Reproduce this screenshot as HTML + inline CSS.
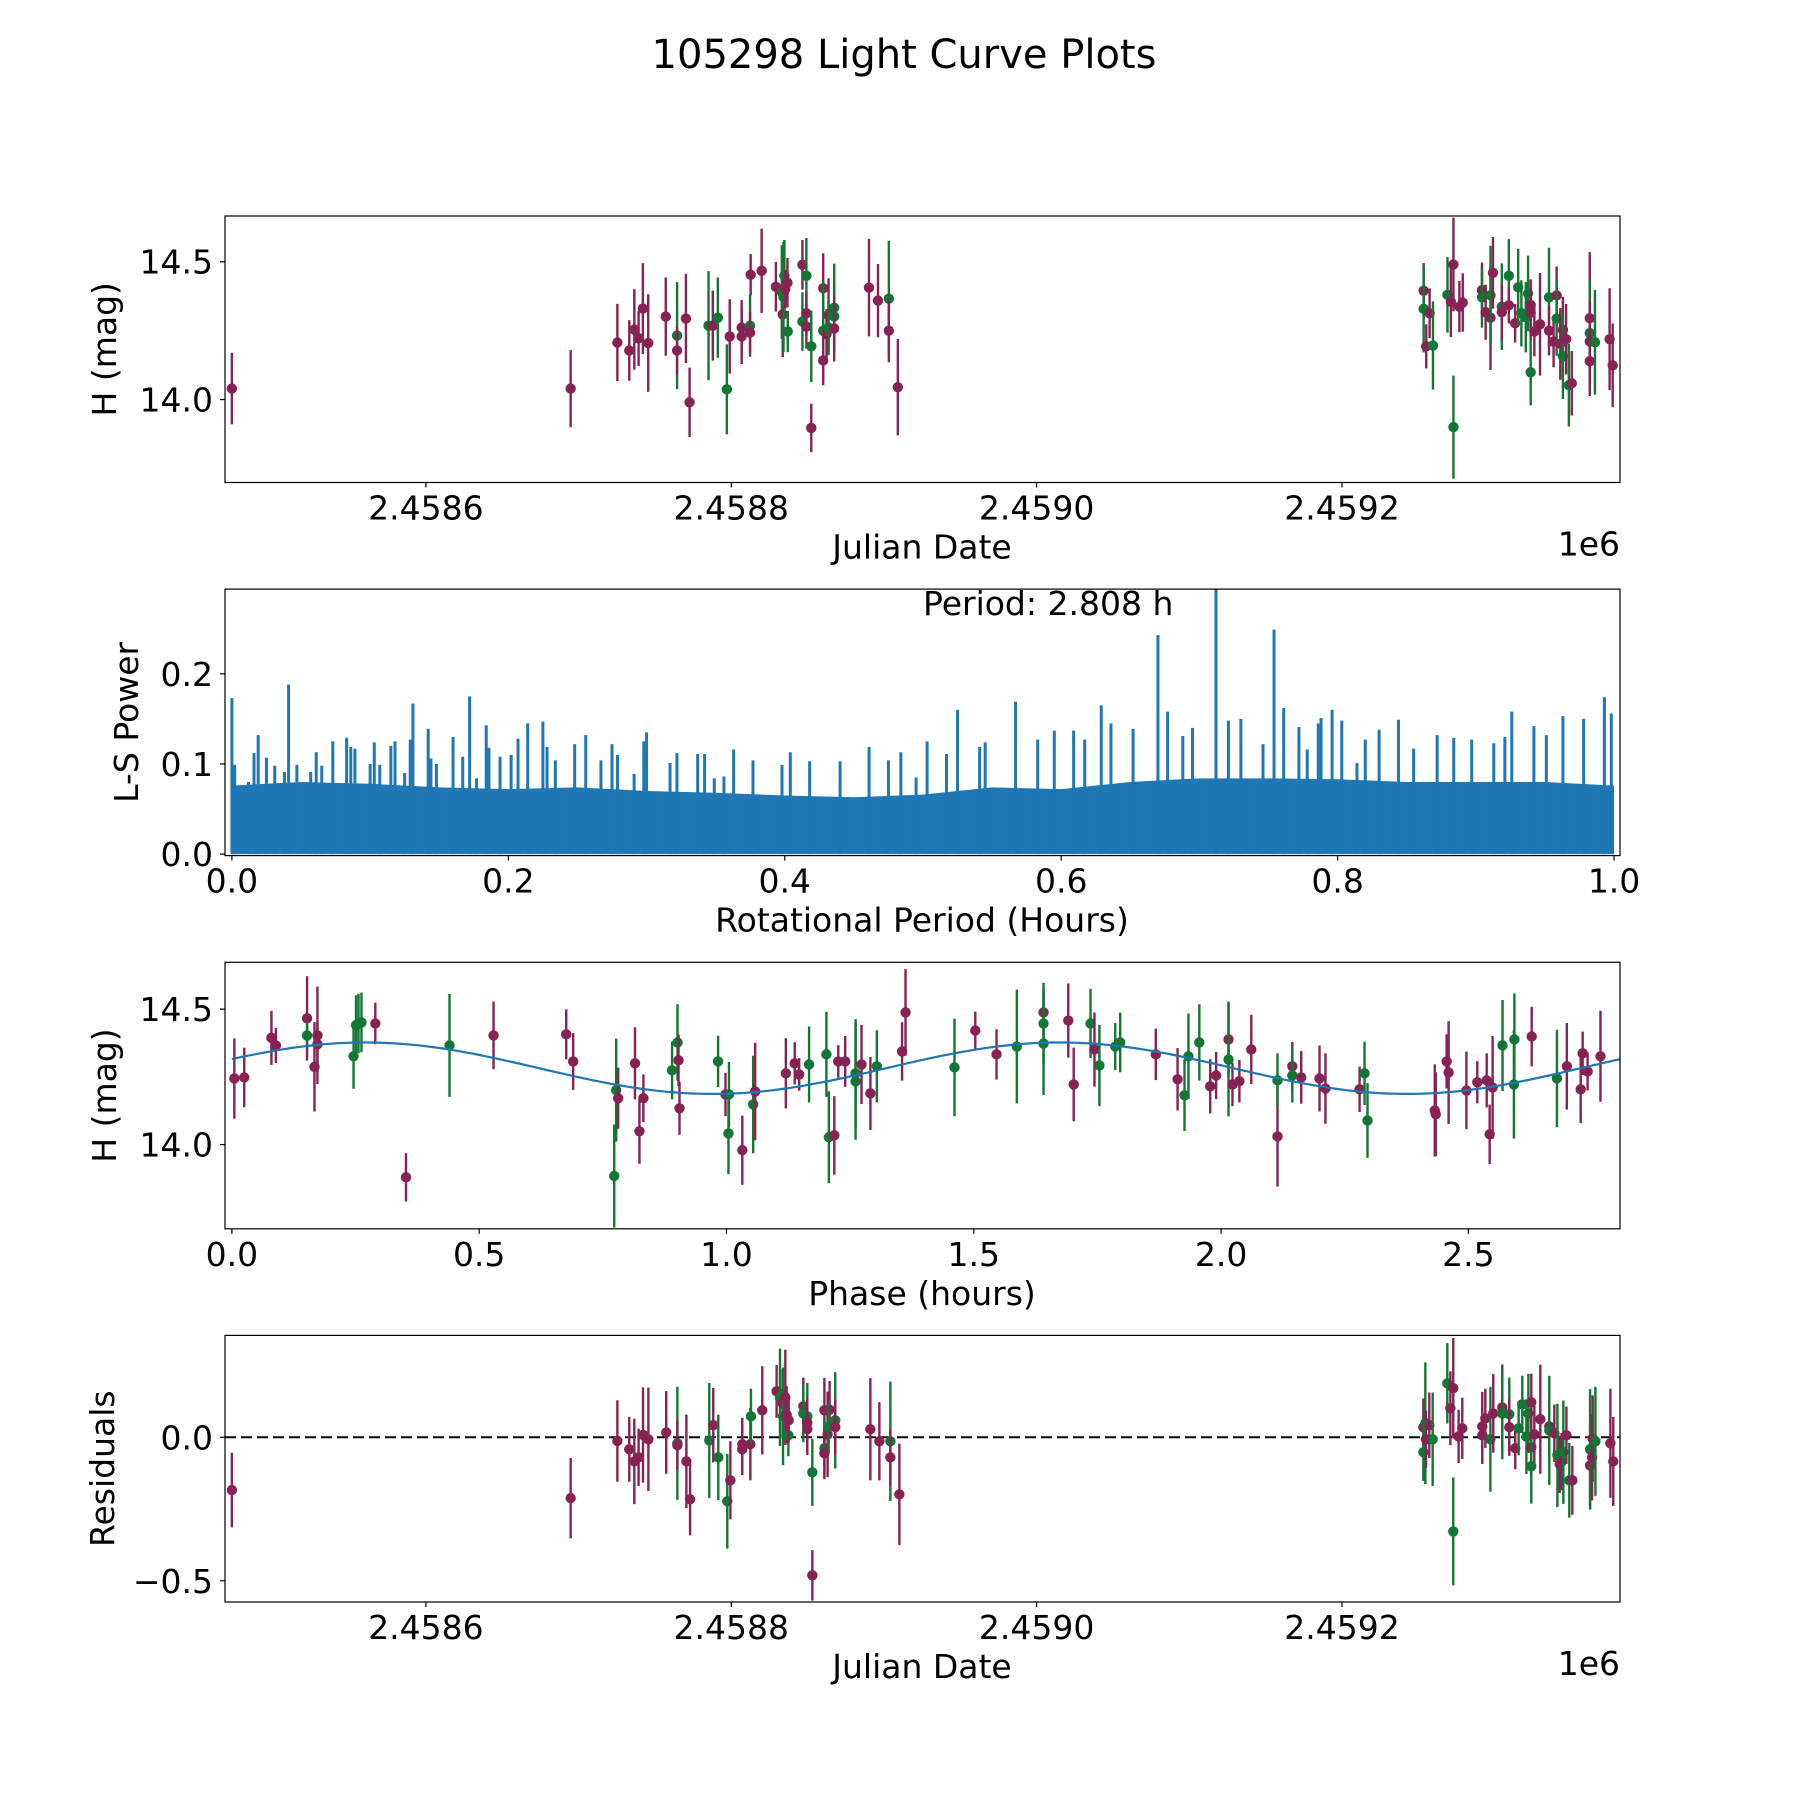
<!DOCTYPE html>
<html><head><meta charset="utf-8"><style>
html,body{margin:0;padding:0;background:#fff;}
svg text{font-family:"DejaVu Sans","Liberation Sans",sans-serif;fill:#000;}
</style></head><body>
<svg id="fig" xmlns="http://www.w3.org/2000/svg" width="1800" height="1800" viewBox="0 0 1800 1800">
<rect x="0" y="0" width="1800" height="1800" fill="#fff"/>
<text x="904" y="68" font-size="40" text-anchor="middle">105298 Light Curve Plots</text>
</svg>
<script>
// ---------- Panel 1: light curve (JD - 2458000) ----------
const jd1 = [472.9,694.8,725.4,733.2,736.5,739.3,742.1,745.6,757.1,764.5,764.5,770.3,772.7,785.1,787.9,791.2,797.1,799.0,806.8,806.8,812.3,812.3,812.7,819.9,829.2,833.1,833.7,834.2,834.8,835.3,836.8,837.0,846.6,846.6,849.2,849.2,849.2,852.4,852.4,860.2,860.2,860.2,862.4,863.7,863.7,867.4,867.4,867.4,890.2,896.1,903.2,903.2,909.1,
1253.5,1253.5,1257.4,1255.2,1259.6,1269.1,1273.0,1273.0,1271.3,1276.9,1279.1,1291.7,1291.7,1294.1,1297.3,1297.3,1298.9,1304.7,1304.7,1309.3,1309.3,1313.4,1315.4,1317.5,1320.4,1321.9,1323.6,1323.6,1323.6,1326.0,1329.7,1335.6,1335.6,1340.6,1338.6,1340.6,1343.0,1344.7,1344.7,1346.8,1348.6,1350.5,1362.3,1362.3,1362.3,1362.3,1365.7,1375.3,1377.3];
const mag1 = [14.04,14.04,14.207,14.178,14.254,14.222,14.33,14.205,14.301,14.232,14.178,14.294,13.99,14.268,14.268,14.297,14.037,14.229,14.261,14.229,14.268,14.243,14.453,14.467,14.409,14.39,14.309,14.372,14.449,14.40,14.424,14.247,14.489,14.283,14.449,14.313,14.265,14.193,13.897,14.404,14.25,14.142,14.238,14.306,14.261,14.333,14.301,14.258,14.406,14.359,14.366,14.25,14.045,
14.395,14.329,14.313,14.193,14.196,14.38,14.49,13.90,14.355,14.337,14.352,14.397,14.371,14.317,14.297,14.378,14.46,14.337,14.317,14.449,14.342,14.277,14.407,14.313,14.299,14.385,14.343,14.315,14.099,14.247,14.273,14.371,14.25,14.378,14.21,14.294,14.202,14.253,14.157,14.219,14.052,14.059,14.295,14.241,14.211,14.139,14.208,14.219,14.124];
const err1 = [0.13,0.14,0.14,0.11,0.146,0.10,0.165,0.177,0.142,0.194,0.086,0.162,0.126,0.198,0.127,0.146,0.163,0.135,0.10,0.10,0.113,0.075,0.075,0.153,0.09,0.17,0.155,0.2,0.13,0.07,0.09,0.075,0.09,0.106,0.137,0.08,0.08,0.13,0.088,0.127,0.18,0.09,0.09,0.134,0.10,0.16,0.12,0.12,0.177,0.133,0.21,0.115,0.175,
0.1,0.158,0.09,0.08,0.16,0.137,0.17,0.187,0.128,0.093,0.106,0.1,0.11,0.1,0.19,0.18,0.13,0.157,0.1,0.133,0.066,0.07,0.14,0.12,0.128,0.137,0.093,0.1,0.12,0.09,0.186,0.18,0.09,0.105,0.093,0.135,0.13,0.12,0.155,0.128,0.15,0.117,0.24,0.195,0.15,0.126,0.19,0.185,0.152];
const band1 = "mm" + "mmmmmmmgmmmgmggmmmgmmmmgmggmmgmggmmgmmgmmmgggmmmgmm" + "mgmmggmgmmmmgmmgmgmgmmggggmmgmmgmmmgmmgmgmmgmmgmm";

// ---------- Panel 2: Lomb-Scargle periodogram ----------
const lsBaseX = [0,0.05,0.1,0.15,0.2,0.25,0.3,0.35,0.4,0.45,0.5,0.55,0.6,0.65,0.7,0.75,0.8,0.85,0.9,0.95,1.0];
const lsBaseY = [0.076,0.080,0.078,0.074,0.072,0.074,0.070,0.068,0.065,0.063,0.066,0.074,0.072,0.080,0.084,0.084,0.083,0.080,0.080,0.080,0.076];
const lsPeakX = [0.000,0.002,0.012,0.016,0.019,0.025,0.031,0.038,0.041,0.047,0.057,0.061,0.065,0.073,0.083,0.086,0.089,0.100,0.103,0.107,0.115,0.118,0.125,0.129,0.131,0.142,0.144,0.148,0.160,0.167,0.172,0.177,0.184,0.186,0.194,0.202,0.207,0.214,0.225,0.228,0.234,0.248,0.256,0.267,0.275,0.279,0.291,0.298,0.300,0.317,0.322,0.337,0.342,0.349,0.356,0.363,0.377,0.398,0.404,0.418,0.440,0.461,0.475,0.484,0.495,
0.503,0.517,0.525,0.541,0.545,0.567,0.583,0.595,0.609,0.617,0.629,0.636,0.652,0.670,0.677,0.688,0.695,0.712,0.721,0.730,0.746,0.754,0.761,0.772,0.778,0.786,0.788,0.796,0.803,0.814,0.820,0.830,0.844,0.855,0.872,0.884,0.897,0.913,0.921,0.926,0.942,0.951,0.963,0.978,0.993,0.998];
const lsPeakY = [0.173,0.099,0.080,0.112,0.132,0.107,0.098,0.091,0.188,0.099,0.091,0.113,0.098,0.125,0.129,0.119,0.117,0.100,0.124,0.099,0.120,0.125,0.090,0.127,0.167,0.139,0.106,0.100,0.130,0.108,0.175,0.084,0.143,0.118,0.108,0.110,0.128,0.145,0.147,0.119,0.104,0.122,0.132,0.104,0.122,0.110,0.089,0.125,0.135,0.101,0.112,0.111,0.111,0.084,0.086,0.116,0.104,0.099,0.113,0.103,0.103,0.119,0.104,0.113,0.085,
0.125,0.111,0.160,0.119,0.124,0.169,0.127,0.137,0.137,0.127,0.165,0.145,0.139,0.243,0.158,0.131,0.140,0.294,0.148,0.150,0.122,0.249,0.162,0.141,0.116,0.145,0.151,0.160,0.148,0.101,0.127,0.138,0.149,0.117,0.132,0.129,0.127,0.123,0.130,0.158,0.142,0.132,0.153,0.150,0.174,0.156];
const bestPeriod = "2.808";

// ---------- Panel 3: phased light curve ----------
const ph3 = [0.005,0.025,0.080,0.089,0.152,0.152,0.167,0.173,0.173,0.246,0.251,0.256,0.262,0.290,0.352,0.440,0.529,0.676,0.690,0.773,0.777,0.781,0.815,0.824,0.832,0.890,0.901,0.903,0.905,
0.983,0.998,1.005,1.004,1.032,1.054,1.058,1.120,1.138,1.147,1.167,1.202,1.207,1.218,1.226,1.240,1.261,1.261,1.273,1.291,1.304,1.355,1.362,1.461,1.503,1.546,1.587,1.641,1.641,1.641,1.691,1.702,1.736,1.744,1.754,1.786,1.796,1.868,
1.912,1.926,1.934,1.956,1.978,1.990,2.015,2.015,2.023,2.037,2.061,2.114,2.114,2.144,2.144,2.162,2.199,2.211,2.280,2.290,2.296,2.432,2.434,2.456,2.460,2.496,2.518,2.537,2.543,2.549,2.569,2.592,2.593,2.628,2.679,2.699,2.727,2.731,2.741,2.767];
const mag3 = [14.244,14.248,14.394,14.366,14.466,14.403,14.287,14.403,14.37,14.326,14.441,14.447,14.451,14.447,13.879,14.366,14.403,14.407,14.307,13.884,14.201,14.171,14.30,14.049,14.171,14.274,14.377,14.311,14.134,
14.307,14.185,14.185,14.041,13.979,14.148,14.196,14.263,14.30,14.259,14.296,14.333,14.027,14.034,14.307,14.307,14.263,14.233,14.296,14.189,14.289,14.344,14.488,14.285,14.421,14.333,14.362,14.488,14.447,14.373,14.458,14.222,14.447,14.351,14.292,14.362,14.377,14.333,
14.241,14.182,14.326,14.377,14.215,14.255,14.388,14.314,14.222,14.234,14.351,14.03,14.237,14.289,14.255,14.248,14.244,14.207,14.204,14.263,14.089,14.126,14.112,14.307,14.266,14.20,14.23,14.237,14.038,14.211,14.366,14.222,14.388,14.399,14.244,14.289,14.204,14.337,14.27,14.326];
const err3 = [0.148,0.11,0.10,0.065,0.156,0.05,0.165,0.18,0.08,0.12,0.11,0.11,0.11,0.077,0.089,0.19,0.125,0.092,0.105,0.19,0.19,0.113,0.133,0.12,0.088,0.107,0.141,0.095,0.098,
0.095,0.08,0.12,0.15,0.128,0.18,0.18,0.13,0.078,0.06,0.14,0.157,0.17,0.145,0.06,0.094,0.2,0.215,0.146,0.135,0.133,0.108,0.16,0.18,0.07,0.093,0.21,0.09,0.15,0.19,0.137,0.136,0.128,0.137,0.15,0.087,0.11,0.095,
0.115,0.132,0.158,0.141,0.10,0.087,0.14,0.21,0.08,0.078,0.128,0.185,0.10,0.09,0.10,0.097,0.122,0.13,0.084,0.117,0.138,0.17,0.155,0.10,0.19,0.143,0.078,0.10,0.11,0.19,0.168,0.20,0.17,0.11,0.18,0.16,0.125,0.08,0.07,0.168];
const band3 = "mmmmmgmmmggggmmgmmmggmmmmggmm" + "gmggmgmmmmgggmmmggmmgmmgmmgmggmmgmgggm" + "mgggmmmgmmmmgmgmmmmggmmmmmmmmmgggmgmmmmm";
// sinusoidal fit: [mean, amplitude, phase of max (h), period (h)]
const fitParams = [14.282, 0.095, 0.27, 2.808];

// ---------- Panel 4: residuals ----------
const jd4 = [472.9,694.8,725.4,733.2,736.5,739.3,742.2,745.7,757.4,764.7,764.7,770.6,773.0,785.6,788.2,791.5,797.4,799.4,807.2,807.2,812.5,812.9,820.3,829.7,831.9,833.7,833.9,835.4,836.3,837.4,837.6,847.2,847.2,849.8,849.8,849.8,853.1,853.1,861.0,861.0,861.0,863.1,864.4,863.8,868.1,868.1,891.1,897.0,904.2,904.2,910.1,
1253.3,1253.3,1254.6,1255.0,1257.2,1259.4,1269.0,1271.0,1272.9,1272.9,1276.4,1278.8,1291.9,1291.9,1293.9,1297.2,1299.1,1305.0,1305.0,1309.6,1309.6,1313.5,1315.7,1318.1,1320.8,1322.1,1324.0,1324.0,1324.0,1326.0,1329.9,1335.8,1335.8,1339.1,1341.1,1342.6,1343.9,1345.0,1347.0,1348.9,1350.9,1362.5,1362.5,1363.8,1364.2,1366.0,1375.8,1377.7];
const res4 = [-0.184,-0.212,-0.013,-0.042,-0.084,-0.07,0.008,-0.007,0.017,-0.021,-0.028,-0.084,-0.216,-0.011,0.042,-0.07,-0.223,-0.15,-0.024,-0.042,-0.024,0.073,0.094,0.16,0.139,0.118,0.073,0.139,0.078,0.007,0.059,0.108,0.083,0.073,0.05,0.028,-0.122,-0.481,0.094,-0.038,-0.056,0.01,0.096,0.037,0.059,0.035,0.028,-0.014,-0.014,-0.07,-0.199,
0.035,-0.052,0.049,-0.007,0.042,-0.007,0.188,0.101,0.171,-0.328,0.003,0.031,0.038,0.007,0.066,-0.007,0.083,0.104,0.083,0.08,0.035,-0.038,0.031,0.115,0.002,0.083,0.122,-0.035,-0.101,0.01,0.063,0.038,0.024,0.014,-0.063,-0.094,-0.085,-0.052,0.007,-0.15,-0.15,-0.098,-0.042,-0.07,-0.004,-0.014,-0.021,-0.084];
const err4 = [0.13,0.14,0.142,0.113,0.149,0.1,0.166,0.18,0.144,0.197,0.087,0.163,0.126,0.2,0.13,0.149,0.165,0.136,0.092,0.09,0.126,0.096,0.154,0.092,0.17,0.12,0.17,0.166,0.1,0.073,0.078,0.1,0.1,0.116,0.09,0.09,0.117,0.088,0.113,0.1,0.09,0.149,0.1,0.09,0.168,0.096,0.178,0.136,0.208,0.1,0.177,
0.1,0.1,0.212,0.1,0.114,0.163,0.14,0.129,0.175,0.188,0.093,0.107,0.12,0.1,0.103,0.183,0.137,0.15,0.16,0.128,0.1,0.073,0.094,0.1,0.13,0.138,0.1,0.1,0.13,0.1,0.19,0.1,0.19,0.1,0.18,0.1,0.1,0.18,0.1,0.13,0.12,0.15,0.21,0.15,0.15,0.19,0.19,0.155];
const band4 = "mm" + "mmmmmmmgmmmgmggm" + "mmmgmmgmgmmgmmggmmgmmgmmmggmmmgmm" + "mggmmggmmgmmmmmgmmggmmggggmmgmmmgmgmmgmgmmgmmgmm";
</script>
<script>
const NS = "http://www.w3.org/2000/svg";
const svg = document.getElementById('fig');
const MAG = "#882255", GRN = "#117733", BLUE = "#1f77b4";
const X0 = 225, X1 = 1620;
const FS = 33;
function el(tag, attrs, parent) {
  const e = document.createElementNS(NS, tag);
  for (const k in attrs) e.setAttribute(k, attrs[k]);
  (parent || svg).appendChild(e);
  return e;
}
function makeAxis(top, bottom, xmin, xmax, ymin, ymax) {
  return {
    top, bottom,
    sx: v => X0 + (v - xmin) / (xmax - xmin) * (X1 - X0),
    sy: v => bottom - (v - ymin) / (ymax - ymin) * (bottom - top)
  };
}
function drawFrame(ax, name) {
  const f = el('rect', {x: X0, y: ax.top, width: X1 - X0, height: ax.bottom - ax.top, fill: 'none', stroke: '#000', 'stroke-width': 1.2});
  
  
}
function xTicks(ax, vals, labels, name) {
  vals.forEach((v, i) => {
    const x = ax.sx(v);
    const t = el('line', {x1: x, x2: x, y1: ax.bottom, y2: ax.bottom + 5, stroke: '#000', 'stroke-width': 1.2});
    
    
    const l = el('text', {x: x, y: ax.bottom + 37, 'font-size': FS, 'text-anchor': 'middle'});
    l.textContent = labels[i];
    
    
  });
}
function yTicks(ax, vals, labels, name) {
  vals.forEach((v, i) => {
    const y = ax.sy(v);
    const t = el('line', {x1: X0 - 5, x2: X0, y1: y, y2: y, stroke: '#000', 'stroke-width': 1.2});
    
    
    const l = el('text', {x: X0 - 12, y: y + 12, 'font-size': FS, 'text-anchor': 'end'});
    l.textContent = labels[i];
    
    
  });
}
function labels(ax, xl, yl, ylx, name, offset) {
  const a = el('text', {x: 922, y: ax.bottom + 76, 'font-size': FS, 'text-anchor': 'middle'});
  a.textContent = xl;
  
  
  const cy = (ax.top + ax.bottom) / 2;
  const b = el('text', {x: ylx, y: cy, 'font-size': FS, 'text-anchor': 'middle', transform: `rotate(-90 ${ylx} ${cy})`});
  b.textContent = yl;
  
  
  if (offset) {
    const o = el('text', {x: X1, y: ax.bottom + 73, 'font-size': FS, 'text-anchor': 'end'});
    o.textContent = offset;
    
    
  }
}
function clip(ax, id) {
  const cp = el('clipPath', {id: id});
  el('rect', {x: X0, y: ax.top, width: X1 - X0, height: ax.bottom - ax.top}, cp);
  return el('g', {'clip-path': `url(#${id})`});
}
function errPoints(ax, g, xs, ys, es, bands, name) {
  xs.forEach((xv, i) => {
    const c = bands[i] === 'g' ? GRN : MAG;
    const x = ax.sx(xv);
    const grp = el('g', {}, g);
    
    
    el('line', {x1: x, x2: x, y1: ax.sy(ys[i] - es[i]), y2: ax.sy(ys[i] + es[i]), stroke: c, 'stroke-width': 2.4}, grp);
    el('circle', {cx: x, cy: ax.sy(ys[i]), r: 5.2, fill: c}, grp);
  });
}

// Panel 1
const ax1 = makeAxis(216, 482.5, 468.4, 1382.1, 13.699, 14.666);
const g1 = clip(ax1, 'c1');


errPoints(ax1, g1, jd1, mag1, err1, band1, 'light-curve');
drawFrame(ax1, 'light-curve');
xTicks(ax1, [600, 800, 1000, 1200], ['2.4586', '2.4588', '2.4590', '2.4592'], 'light-curve');
yTicks(ax1, [14.0, 14.5], ['14.0', '14.5'], 'light-curve');
labels(ax1, 'Julian Date', 'H (mag)', 116, 'light-curve', '1e6');

// Panel 2
const ax2 = makeAxis(589.1, 855.6, -0.005, 1.0043, -0.0017, 0.294);
const g2 = clip(ax2, 'c2');


let pts = `${ax2.sx(lsBaseX[0])},${ax2.sy(0)} `;
lsBaseX.forEach((v, i) => { pts += `${ax2.sx(v)},${ax2.sy(lsBaseY[i])} `; });
pts += `${ax2.sx(lsBaseX[lsBaseX.length - 1])},${ax2.sy(0)}`;
const band = el('polygon', {points: pts, fill: BLUE}, g2);


lsPeakX.forEach((v, i) => {
  const ln = el('line', {x1: ax2.sx(v), x2: ax2.sx(v), y1: ax2.sy(0), y2: ax2.sy(lsPeakY[i]), stroke: BLUE, 'stroke-width': 3}, g2);
  
  
});
drawFrame(ax2, 'periodogram');
xTicks(ax2, [0, 0.2, 0.4, 0.6, 0.8, 1.0], ['0.0', '0.2', '0.4', '0.6', '0.8', '1.0'], 'periodogram');
yTicks(ax2, [0, 0.1, 0.2], ['0.0', '0.1', '0.2'], 'periodogram');
labels(ax2, 'Rotational Period (Hours)', 'L-S Power', 138, 'periodogram');
const pt = el('text', {x: ax2.sx(0.5), y: 615, 'font-size': FS});
pt.textContent = 'Period: ' + bestPeriod + ' h';



// Panel 3
const ax3 = makeAxis(962.3, 1228.8, -0.0139, 2.8065, 13.689, 14.673);
const g3 = clip(ax3, 'c3');


errPoints(ax3, g3, ph3, mag3, err3, band3, 'phased');
let d = '';
for (let i = 0; i <= 300; i++) {
  const p = fitParams[3] * i / 300;
  const m = fitParams[0] + fitParams[1] * Math.cos(4 * Math.PI * (p - fitParams[2]) / fitParams[3]);
  d += (i ? 'L' : 'M') + ax3.sx(p).toFixed(1) + ',' + ax3.sy(m).toFixed(1);
}
const fit = el('path', {d: d, fill: 'none', stroke: BLUE, 'stroke-width': 2.2}, g3);


drawFrame(ax3, 'phased');
xTicks(ax3, [0, 0.5, 1, 1.5, 2, 2.5], ['0.0', '0.5', '1.0', '1.5', '2.0', '2.5'], 'phased');
yTicks(ax3, [14.0, 14.5], ['14.0', '14.5'], 'phased');
labels(ax3, 'Phase (hours)', 'H (mag)', 116, 'phased');

// Panel 4
const ax4 = makeAxis(1335.4, 1602, 468.4, 1382.1, -0.574, 0.355);
const g4 = clip(ax4, 'c4');


const zl = el('line', {x1: X0, x2: X1, y1: ax4.sy(0), y2: ax4.sy(0), stroke: '#000', 'stroke-width': 2, 'stroke-dasharray': '11 5'}, g4);


errPoints(ax4, g4, jd4, res4, err4, band4, 'residual');
drawFrame(ax4, 'residuals');
xTicks(ax4, [600, 800, 1000, 1200], ['2.4586', '2.4588', '2.4590', '2.4592'], 'residuals');
yTicks(ax4, [-0.5, 0], ['\u22120.5', '0.0'], 'residuals');
labels(ax4, 'Julian Date', 'Residuals', 114, 'residuals', '1e6');
</script>
</body></html>
